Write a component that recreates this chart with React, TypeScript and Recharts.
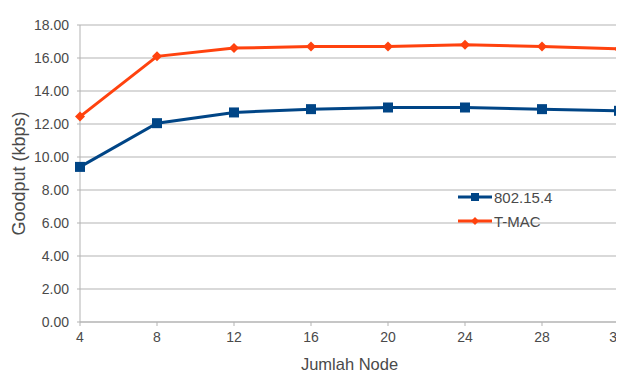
import React from 'react';
import { LineChart, Line, XAxis, YAxis, CartesianGrid, ReferenceLine } from 'recharts';

const nodes = [4, 8, 12, 16, 20, 24, 28, 32];
const ieee802154 = [9.4, 12.05, 12.7, 12.9, 13.0, 13.0, 12.9, 12.8];
const tmac = [12.45, 16.1, 16.6, 16.7, 16.7, 16.8, 16.7, 16.55];
const yTicks = [0, 2, 4, 6, 8, 10, 12, 14, 16, 18];

const data = nodes.map((n, i) => ({ node: n, a: ieee802154[i], b: tmac[i] }));

const BLUE = '#004586';
const ORANGE = '#ff420e';
const GRID = '#b3b3b3';
const TEXT = '#4a4a4a';
const FONT = '"Liberation Sans", Arial, sans-serif';

const Square = (props: any) => {
    const { cx, cy } = props;
    if (cx == null || cy == null) return null;
    return <rect x={cx - 5} y={cy - 5} width={10} height={10} fill={BLUE} />;
};

const Diamond = (props: any) => {
    const { cx, cy } = props;
    if (cx == null || cy == null) return null;
    return <polygon points={`${cx},${cy - 5} ${cx + 5},${cy} ${cx},${cy + 5} ${cx - 5},${cy}`} fill={ORANGE} />;
};

const legendItems = [
    { name: '802.15.4', color: BLUE, shape: 'square' },
    { name: 'T-MAC', color: ORANGE, shape: 'diamond' },
];

const LegendBox = () => (
    <div style={{ position: 'absolute', left: 450, top: 177, fontFamily: FONT, fontSize: 15, color: TEXT }}>
        {legendItems.map((item) => (
            <div key={item.name} style={{ display: 'flex', alignItems: 'center', height: 24 }}>
                <svg width={36} height={12}>
                    <line x1={0} y1={6} x2={34} y2={6} stroke={item.color} strokeWidth={3} />
                    {item.shape === 'square' ? (
                        <rect x={13} y={2} width={8} height={8} fill={item.color} />
                    ) : (
                        <polygon points="17,2 21,6 17,10 13,6" fill={item.color} />
                    )}
                </svg>
                <span>{item.name}</span>
            </div>
        ))}
    </div>
);

const App = () => {
    return (
        <div style={{ position: 'relative', width: 616, height: 365 }}>
            <LineChart
                width={616}
                height={365}
                data={data}
                margin={{ top: 17, right: 5, left: 0, bottom: 0 }}
                style={{ fontFamily: FONT }}
            >
                <CartesianGrid stroke={GRID} vertical={false} />
                <XAxis
                    dataKey="node"
                    type="number"
                    domain={[4, 32]}
                    ticks={nodes}
                    height={51}
                    stroke={GRID}
                    tickSize={4}
                    tickMargin={6}
                    tick={{ fill: TEXT, fontSize: 14 }}
                    label={{ value: 'Jumlah Node', position: 'insideBottom', offset: 3, fill: TEXT, fontSize: 16.5 }}
                />
                <YAxis
                    domain={[0, 18]}
                    ticks={yTicks}
                    width={72}
                    stroke={GRID}
                    tickSize={3}
                    tickMargin={8}
                    tickFormatter={(v: number) => v.toFixed(2)}
                    tick={{ fill: TEXT, fontSize: 14 }}
                    label={{ value: 'Goodput (kbps)', angle: -90, position: 'insideLeft', offset: 11, fill: TEXT, fontSize: 18, style: { textAnchor: 'middle' } }}
                />
                <ReferenceLine x={32} stroke={GRID} />
                <Line dataKey="a" name="802.15.4" stroke={BLUE} strokeWidth={3} dot={<Square />} isAnimationActive={false} />
                <Line dataKey="b" name="T-MAC" stroke={ORANGE} strokeWidth={3} dot={<Diamond />} isAnimationActive={false} />
            </LineChart>
            <LegendBox />
        </div>
    );
};

export default App;
